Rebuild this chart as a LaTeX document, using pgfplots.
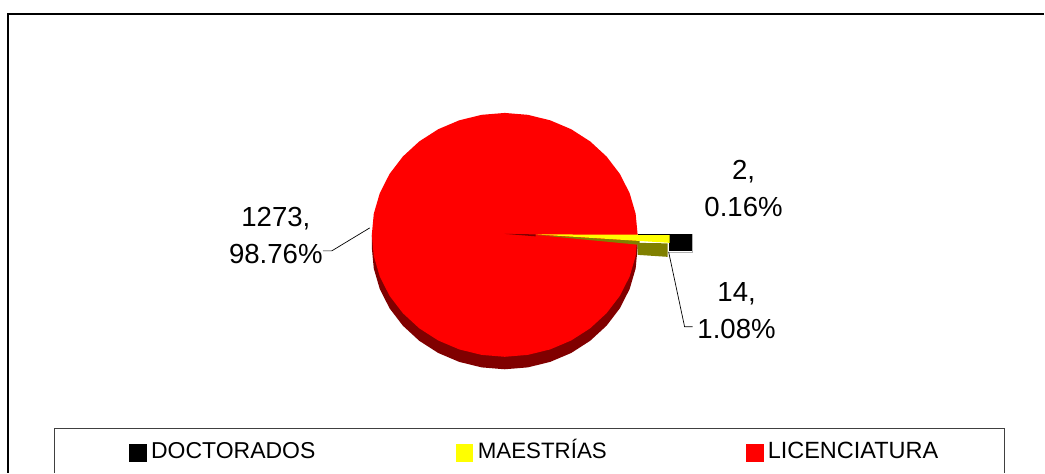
\documentclass[border=0pt]{standalone}
\usepackage{pgfplots}
\pgfplotsset{compat=1.18}
\usepackage{pgfplotstable}
\usepackage{fontspec}
\setmainfont{Liberation Sans}

\definecolor{pieRed}{RGB}{255,0,0}
\definecolor{pieRedDark}{RGB}{128,0,0}
\definecolor{pieYellow}{RGB}{255,255,0}
\definecolor{pieOlive}{RGB}{128,128,0}

% pie outline, in pixels of the reference (y measured from the bottom)
\pgfplotstableread{
x y
638 238
636 259.2
630 279.7
620.2 299
606.9 316.4
590.5 331.5
571.5 343.7
550.5 352.6
528.1 358.1
505 360
481.9 358.1
459.5 352.6
438.5 343.7
419.5 331.5
403.1 316.4
389.8 299
380 279.7
374 259.2
372 238
374 216.8
380 196.3
389.8 177
403.1 159.6
419.5 144.5
438.5 132.3
459.5 123.4
481.9 117.9
505 116
528.1 117.9
550.5 123.4
571.5 132.3
590.5 144.5
606.9 159.6
620.2 177
630 196.3
636 216.8
}\pietop

\pgfplotstableread{
x y
372 238
372 225.5
374 204.3
380 183.8
389.8 164.5
403.1 147.1
419.5 132
438.5 119.8
459.5 110.9
481.9 105.4
505 103.5
528.1 105.4
550.5 110.9
571.5 119.8
590.5 132
606.9 147.1
620.2 164.5
630 183.8
636 204.3
638 225.5
638 238
}\piewall

\newcommand{\lbl}[3]{\node[font=\fontsize{27.6}{30}\selectfont,inner sep=0pt] at (axis cs:#1,#2) {#3};}
\newcommand{\leg}[4]{\node[font=\fontsize{#4}{26}\selectfont,inner sep=0pt,anchor=base west] at (axis cs:#1,#2) {#3};}

\begin{document}
\begin{tikzpicture}
\begin{axis}[
  hide axis,
  scale only axis,
  width=1045pt,
  height=473pt,
  xmin=0, xmax=1045,
  ymin=0, ymax=473,
  clip=false,
]
% chart frame, open at right and bottom
\addplot[black,line width=1.2pt] coordinates {(8,0) (8,459) (1045,459)};

% pie body
\addplot[fill=pieRedDark,draw=none] table {\piewall} -- cycle;
\addplot[fill=pieRed,draw=none] table {\pietop} -- cycle;

% MAESTRIAS wall and sliver
\addplot[fill=pieOlive,draw=none] coordinates {(638,230) (668,229.5) (668,216) (638,218)} -- cycle;
\addplot[fill=pieOlive,draw=none] coordinates {(536,238) (640,228) (640,232)} -- cycle;
% DOCTORADOS
\addplot[gray!60,line width=0.5pt] coordinates {(693,239) (693,221) (669,221)};
\addplot[fill=black,draw=none] coordinates {(669,239) (692,239) (692,222) (669,222)} -- cycle;
\addplot[fill=pieRedDark,draw=none] coordinates {(505,239) (536,238.5) (536,236.5)} -- cycle;
% MAESTRIAS top
\addplot[fill=pieYellow,draw=none] coordinates {(536,238.5) (670,238) (670,230)} -- cycle;
\addplot[black,line width=0.7pt] coordinates {(638,239) (692,239)};

% leader lines
\addplot[black,line width=0.7pt] coordinates {(370,245) (332,222) (323,222)};
\addplot[black,line width=0.7pt] coordinates {(669,221) (685,146) (693,146)};

% data labels
\lbl{744}{301}{2,}
\lbl{744}{266}{0.16\%}
\lbl{737}{179}{14,}
\lbl{737}{144}{1.08\%}
\lbl{276}{254}{1273,}
\lbl{276}{219}{98.76\%}

% legend box
\addplot[black!75,line width=1pt] coordinates {(55,0) (55,44) (1005,44) (1005,0)};
\addplot[fill=black,draw=none] coordinates {(129,29) (147,29) (147,11) (129,11)} -- cycle;
\addplot[fill=pieYellow,draw=none] coordinates {(456,29) (473,29) (473,11) (456,11)} -- cycle;
\addplot[fill=pieRed,draw=none] coordinates {(746,29) (764,29) (764,11) (746,11)} -- cycle;
\leg{151}{14}{DOCTORADOS}{23}
\leg{478}{14}{MAESTRÍAS}{22.3}
\leg{768}{14}{LICENCIATURA}{23.5}
\end{axis}
\useasboundingbox (current axis.south west) rectangle (current axis.north east);
\end{tikzpicture}
\end{document}
